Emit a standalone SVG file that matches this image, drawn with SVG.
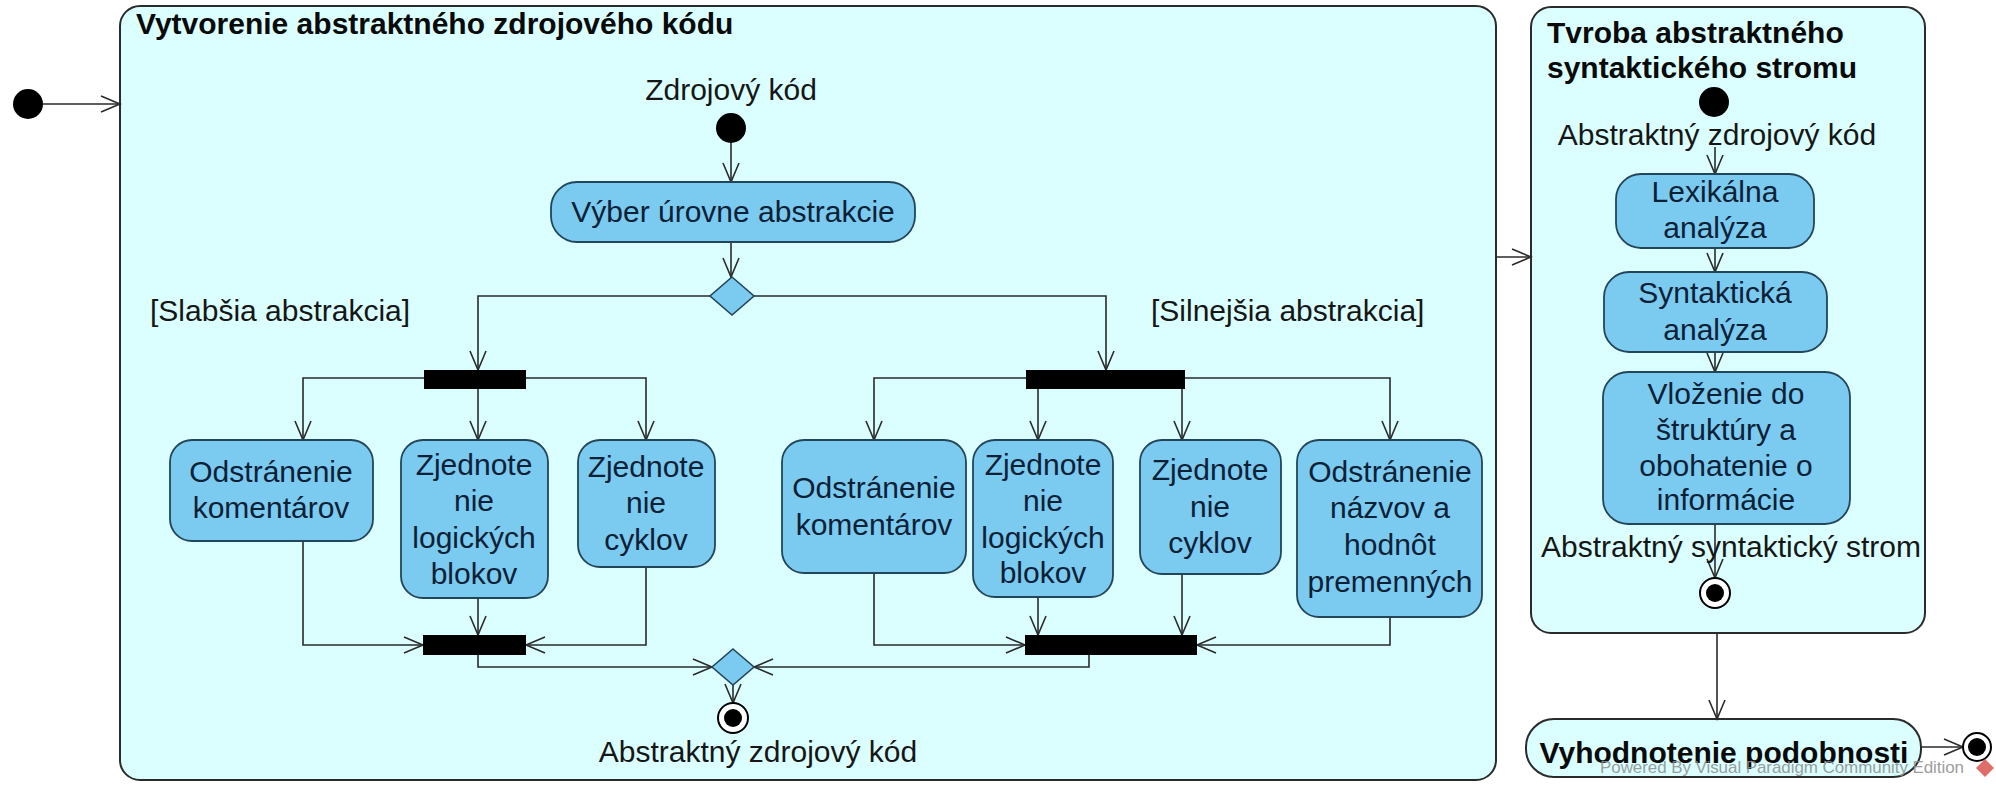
<svg xmlns="http://www.w3.org/2000/svg" width="1996" height="785" viewBox="0 0 1996 785">
<style>
text{font-family:"Liberation Sans",Arial,sans-serif;font-size:30px;fill:#161616}
.b{font-weight:bold;fill:#0a0a0a}
.c{text-anchor:middle}
.a text{fill:#0c2036}
.frame{fill:#DBFFFF;stroke:#2b2b2b;stroke-width:2}
.act{fill:#7BCBF0;stroke:#23455a;stroke-width:1.8}
.bar{fill:#000}
.dia{fill:#7BCBF0;stroke:#23455a;stroke-width:1.6}
.con path{fill:none;stroke:#2a2a2a;stroke-width:1.6;marker-end:url(#arr)}
.wm{font-size:17px;fill:#8e8e8e;opacity:0.85}
</style>
<defs>
<marker id="arr" markerUnits="userSpaceOnUse" markerWidth="22" markerHeight="20" refX="20" refY="9" orient="auto">
<path d="M1,1 L20,9 L1,17" fill="none" stroke="#2a2a2a" stroke-width="1.6"/>
</marker>
</defs>

<g id="frame1">
<rect class="frame" x="120" y="6" width="1376" height="774" rx="20"/>
<text class="b" x="136" y="34">Vytvorenie abstraktného zdrojového kódu</text>
</g>
<g id="frame2">
<rect class="frame" x="1531" y="7" width="394" height="626" rx="20"/>
<text class="b" x="1547" y="43">Tvroba abstraktného</text>
<text class="b" x="1547" y="78">syntaktického stromu</text>
</g>
<g id="vyhodnotenie">
<rect class="frame" x="1526" y="719" width="395" height="58" rx="28"/>
<text class="b c" x="1724" y="763">Vyhodnotenie podobnosti</text>
</g>

<g class="con" id="connectors">
<path d="M43,104 L120,104"/>
<path d="M1496,257 L1531,257"/>
<path d="M731,143 L731,182"/>
<path d="M731,242 L731,277"/>
<path d="M710,296 L478,296 L478,370"/>
<path d="M754,296 L1106,296 L1106,370"/>
<path d="M424,378 L303,378 L303,440"/>
<path d="M478,389 L478,440"/>
<path d="M526,378 L646,378 L646,440"/>
<path d="M1026,378 L874,378 L874,440"/>
<path d="M1038,389 L1038,440"/>
<path d="M1182,389 L1182,440"/>
<path d="M1185,378 L1390,378 L1390,440"/>
<path d="M303,541 L303,645 L423,645"/>
<path d="M478,598 L478,635"/>
<path d="M646,567 L646,645 L526,645"/>
<path d="M478,655 L478,667 L712,667"/>
<path d="M874,573 L874,645 L1025,645"/>
<path d="M1038,597 L1038,635"/>
<path d="M1182,574 L1182,635"/>
<path d="M1390,617 L1390,645 L1197,645"/>
<path d="M1089,655 L1089,667 L754,667"/>
<path d="M733,685 L733,703"/>
<path d="M1715,147 L1715,174"/>
<path d="M1715,248 L1715,272"/>
<path d="M1715,352 L1715,372"/>
<path d="M1715,524 L1715,578"/>
<path d="M1717,633 L1717,719"/>
<path d="M1921,747 L1963,747"/>
</g>

<g id="start0"><circle cx="28" cy="104" r="15" fill="#000"/></g>
<g id="start1">
<text class="c" x="731" y="100">Zdrojový kód</text>
<circle cx="731" cy="128" r="15" fill="#000"/>
</g>
<g id="vyber" class="a">
<rect class="act" x="551" y="182" width="364" height="60" rx="26"/>
<text class="c" x="733" y="222">Výber úrovne abstrakcie</text>
</g>
<g id="decision1"><path class="dia" d="M732,277 L754,296 L732,315 L710,296 Z"/></g>
<g id="guardL"><text x="150" y="321">[Slabšia abstrakcia]</text></g>
<g id="guardR"><text x="1151" y="321">[Silnejšia abstrakcia]</text></g>
<g id="forkL"><rect class="bar" x="424" y="370" width="102" height="19"/></g>
<g id="forkR"><rect class="bar" x="1026" y="370" width="159" height="19"/></g>

<g id="L1" class="a">
<rect class="act" x="170" y="440" width="203" height="101" rx="22"/>
<text class="c" x="271" y="482">Odstránenie</text>
<text class="c" x="271" y="518">komentárov</text>
</g>
<g id="L2" class="a">
<rect class="act" x="401" y="440" width="147" height="158" rx="22"/>
<text class="c" x="474" y="475">Zjednote</text>
<text class="c" x="474" y="511">nie</text>
<text class="c" x="474" y="548">logických</text>
<text class="c" x="474" y="584">blokov</text>
</g>
<g id="L3" class="a">
<rect class="act" x="578" y="440" width="137" height="127" rx="22"/>
<text class="c" x="646" y="477">Zjednote</text>
<text class="c" x="646" y="513">nie</text>
<text class="c" x="646" y="550">cyklov</text>
</g>
<g id="R1" class="a">
<rect class="act" x="782" y="440" width="184" height="133" rx="22"/>
<text class="c" x="874" y="498">Odstránenie</text>
<text class="c" x="874" y="535">komentárov</text>
</g>
<g id="R2" class="a">
<rect class="act" x="973" y="440" width="140" height="157" rx="22"/>
<text class="c" x="1043" y="475">Zjednote</text>
<text class="c" x="1043" y="511">nie</text>
<text class="c" x="1043" y="548">logických</text>
<text class="c" x="1043" y="583">blokov</text>
</g>
<g id="R3" class="a">
<rect class="act" x="1140" y="440" width="141" height="134" rx="22"/>
<text class="c" x="1210" y="480">Zjednote</text>
<text class="c" x="1210" y="517">nie</text>
<text class="c" x="1210" y="553">cyklov</text>
</g>
<g id="R4" class="a">
<rect class="act" x="1297" y="440" width="185" height="177" rx="22"/>
<text class="c" x="1390" y="482">Odstránenie</text>
<text class="c" x="1390" y="518">názvov a</text>
<text class="c" x="1390" y="555">hodnôt</text>
<text class="c" x="1390" y="592">premenných</text>
</g>
<g id="joinL"><rect class="bar" x="423" y="635" width="103" height="20"/></g>
<g id="joinR"><rect class="bar" x="1025" y="635" width="172" height="20"/></g>
<g id="decision2"><path class="dia" d="M733,649 L754,667 L733,685 L712,667 Z"/></g>
<g id="end1">
<circle cx="733" cy="718" r="15" fill="#fff" stroke="#000" stroke-width="2"/>
<circle cx="733" cy="718" r="9" fill="#000"/>
<text class="c" x="758" y="762">Abstraktný zdrojový kód</text>
</g>

<g id="start2">
<circle cx="1714" cy="102" r="15" fill="#000"/>
<text class="c" x="1717" y="145">Abstraktný zdrojový kód</text>
</g>
<g id="lex" class="a">
<rect class="act" x="1616" y="174" width="198" height="74" rx="25"/>
<text class="c" x="1715" y="202">Lexikálna</text>
<text class="c" x="1715" y="238">analýza</text>
</g>
<g id="syn" class="a">
<rect class="act" x="1604" y="272" width="223" height="80" rx="25"/>
<text class="c" x="1715" y="303">Syntaktická</text>
<text class="c" x="1715" y="340">analýza</text>
</g>
<g id="vloz" class="a">
<rect class="act" x="1603" y="372" width="247" height="152" rx="25"/>
<text class="c" x="1726" y="404">Vloženie do</text>
<text class="c" x="1726" y="440">štruktúry a</text>
<text class="c" x="1726" y="476">obohatenie o</text>
<text class="c" x="1726" y="510">informácie</text>
</g>
<g id="end2">
<text class="c" x="1731" y="557">Abstraktný syntaktický strom</text>
<circle cx="1715" cy="593" r="15" fill="#fff" stroke="#000" stroke-width="2"/>
<circle cx="1715" cy="593" r="9" fill="#000"/>
</g>
<g id="end3">
<circle cx="1977" cy="747" r="14" fill="#fff" stroke="#000" stroke-width="2"/>
<circle cx="1977" cy="747" r="9" fill="#000"/>
</g>
<g id="watermark">
<text class="wm" x="1600" y="773" textLength="364">Powered By  Visual Paradigm Community Edition</text>
<path d="M1985,759 L1994,768 L1985,777 L1976,768 Z" fill="#d9534f" opacity="0.85"/>
</g>
</svg>
